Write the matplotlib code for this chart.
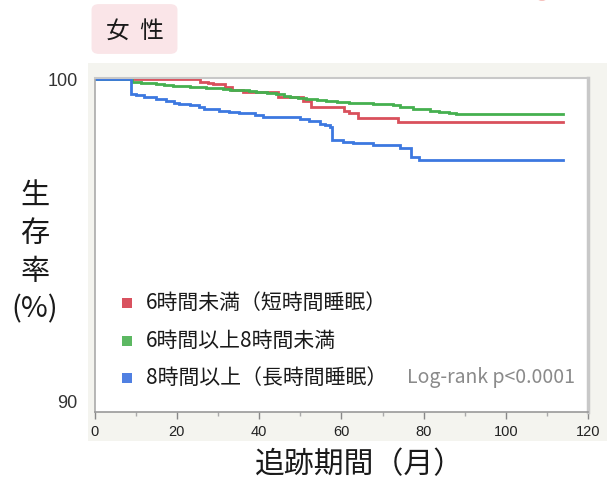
import matplotlib
matplotlib.use("Agg")
import matplotlib.pyplot as plt
from matplotlib.patches import Rectangle, FancyBboxPatch, Circle

plt.rcParams['font.family'] = ['Noto Sans CJK JP', 'DejaVu Sans']

# ---- data (Kaplan-Meier steps, months -> survival %) ----
red_t = [0, 25.7, 27.5, 28.7, 31.6, 33.5, 36.0, 44.6, 50.6, 52.6, 60.7, 61.9, 64.0, 73.7, 113.8]
red_s = [100, 99.93, 99.89, 99.84, 99.75, 99.68, 99.61, 99.44, 99.34, 99.13, 99.03, 98.94, 98.81, 98.68, 98.68]

green_t = [0, 9.2, 11.3, 13.0, 15.0, 17.0, 19.0, 21.0, 23.1, 25.0, 27.1, 29.0, 31.1, 33.0, 35.2,
           37.5, 39.3, 42.0, 44.1, 46.0, 47.4, 49.5, 51.4, 54.0, 56.3, 59.0, 61.9, 64.5, 67.6,
           72.5, 74.1, 77.3, 81.4, 83.8, 86.0, 87.9, 113.8]
green_s = [100, 99.93, 99.89, 99.87, 99.85, 99.83, 99.80, 99.79, 99.77, 99.75, 99.73, 99.72, 99.70, 99.68, 99.67,
           99.64, 99.60, 99.57, 99.53, 99.49, 99.46, 99.42, 99.39, 99.36, 99.32, 99.30, 99.27, 99.25, 99.24,
           99.21, 99.14, 99.08, 99.03, 99.00, 98.96, 98.92, 98.92]

blue_t = [0, 8.9, 10.1, 12.1, 15.0, 17.4, 19.4, 20.6, 23.1, 25.5, 26.7, 30.2, 32.7, 35.2, 38.9, 41.0,
          49.8, 52.2, 54.7, 55.9, 57.1, 57.7, 60.3, 62.7, 67.6, 74.1, 76.9, 78.9, 113.8]
blue_s = [100, 99.55, 99.50, 99.44, 99.39, 99.34, 99.27, 99.24, 99.19, 99.13, 99.08, 99.02, 98.98, 98.95, 98.89, 98.82,
          98.77, 98.70, 98.62, 98.57, 98.53, 98.13, 98.07, 98.02, 97.96, 97.88, 97.58, 97.49, 97.49]

labels = ['6時間未満（短時間睡眠）', '6時間以上8時間未満', '8時間以上（長時間睡眠）']
line_colors = ['#d9505c', '#45b04f', '#3c78e0']
legend_colors = ['#d9525f', '#5cb862', '#5080e2']
xticks = [0, 20, 40, 60, 80, 100, 120]
yticks = [90, 100]
title = '女  性'
ylabel_lines = ['生', '存', '率', '(%)']
xlabel = '追跡期間（月）'
pvalue = 'Log-rank p<0.0001'

W, H = 614, 479
fig = plt.figure(figsize=(W / 100, H / 100), dpi=100)
fig.patch.set_facecolor('white')

def fx(x):
    return x / W

def fy(y):
    return 1 - y / H

# background panel
fig.patches.append(Rectangle((fx(88), fy(441)), fx(607) - fx(88), fy(63) - fy(441),
                             transform=fig.transFigure, facecolor='#f4f4ef', edgecolor='none', zorder=-5))
# title badge
fig.patches.append(FancyBboxPatch((fx(94), fy(52)), fx(175) - fx(94), fy(6) - fy(52),
                                  boxstyle='round,pad=0.004,rounding_size=0.012',
                                  transform=fig.transFigure, facecolor='#fae5e8', edgecolor='none', zorder=-5))
fig.text(fx(135), fy(31), title, ha='center', va='center', fontsize=17, color='#1a1a1a')
# small decorative circle top right
fig.patches.append(Circle((fx(542), fy(-6)), 0.014, transform=fig.transFigure,
                          facecolor='#f2a6a0', edgecolor='none', zorder=-5))

ax = fig.add_axes([fx(94.5), fy(412), fx(588.5) - fx(94.5), fy(78) - fy(412)])
ax.set_facecolor('white')
ax.set_zorder(1)

for t, s, c in zip([red_t, green_t, blue_t], [red_s, green_s, blue_s], line_colors):
    ax.step(t, s, where='post', color=c, lw=2.0, solid_joinstyle='miter')

ax.set_xlim(0, 120)
ax.set_ylim(89.69, 100.04)
ax.set_xticks(xticks)
ax.set_xticks(range(10, 120, 20), minor=True)
ax.set_yticks(yticks)
ax.tick_params(axis='x', which='major', length=5, width=1, color='#888888', labelsize=10.5,
               labelcolor='#222222', pad=4)
ax.tick_params(axis='x', which='minor', length=3, width=1, color='#aaaaaa')
ax.tick_params(axis='y', length=0, labelsize=13, labelcolor='#333333', pad=12)
for lab in ax.get_xticklabels() + ax.get_yticklabels():
    lab.set_family(['Liberation Sans', 'DejaVu Sans'])

ax.spines['left'].set_color('#aaaaaa')
ax.spines['left'].set_linewidth(1.2)
ax.spines['bottom'].set_color('#999999')
ax.spines['bottom'].set_linewidth(1.2)
ax.spines['top'].set_color('#c8c8c8')
ax.spines['top'].set_linewidth(1.5)
ax.spines['right'].set_color('#c8c8c8')
ax.spines['right'].set_linewidth(2.5)

# legend (manual)
rows = [303, 341, 378]
for lab, col, yy in zip(labels, legend_colors, rows):
    fig.patches.append(Rectangle((fx(121.5), fy(yy + 5)), fx(10.5), fx(10.5) * W / H,
                                 transform=fig.transFigure, facecolor=col, edgecolor='none', zorder=5))
    fig.text(fx(146), fy(yy), lab, ha='left', va='center', fontsize=15, color='#1a1a1a', zorder=6)
fig.text(fx(575), fy(378), pvalue, ha='right', va='center', fontsize=14, color='#8a8a8a', zorder=6)

# y label stacked
for txt, yy in zip(ylabel_lines, [196, 234, 272, 309]):
    fig.text(fx(35), fy(yy), txt, ha='center', va='center', fontsize=21, color='#1a1a1a')
# x label
fig.text(fx(359), fy(465), xlabel, ha='center', va='center', fontsize=21.5, color='#1a1a1a')

fig.savefig('out.png', dpi=100, facecolor='white')
